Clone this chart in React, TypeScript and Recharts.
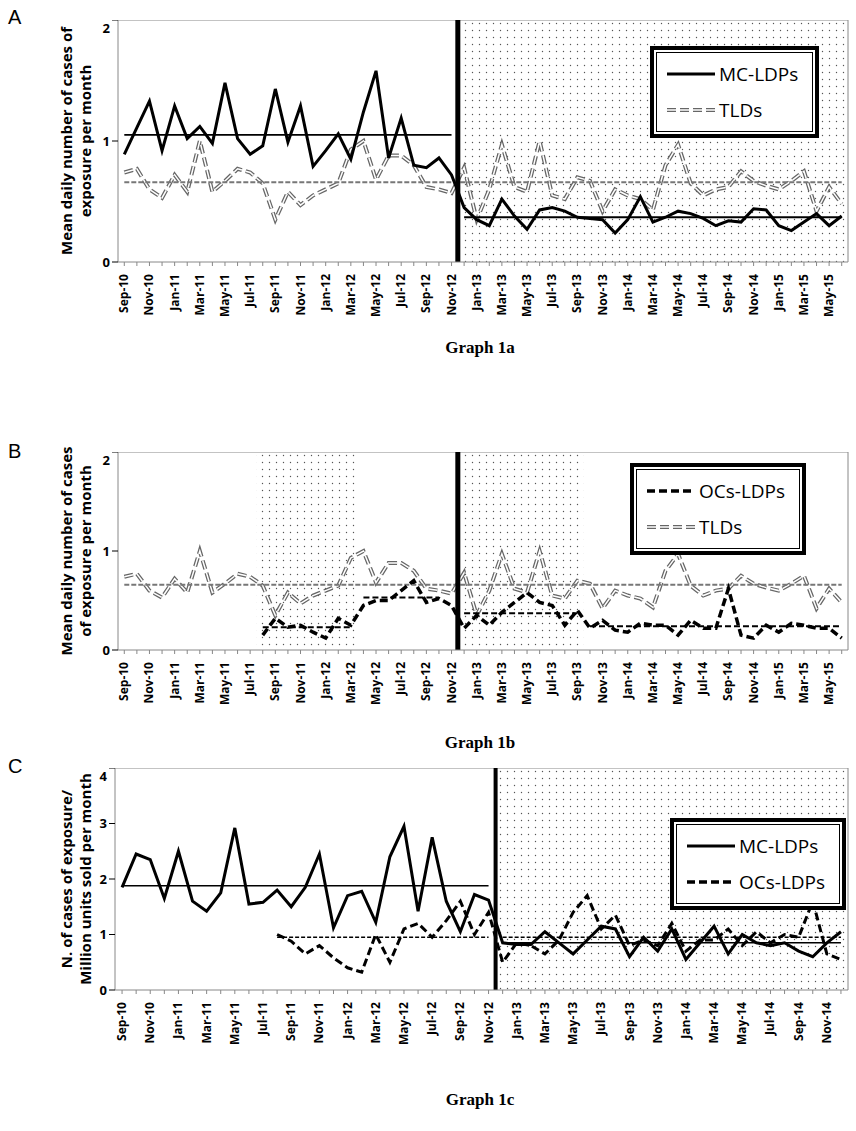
import React from 'react'
import { LineChart, Line, XAxis, YAxis, ReferenceLine, ReferenceArea } from 'recharts'

// month labels
const MONTHS_AB = [
  'Sep-10','Oct-10','Nov-10','Dec-10','Jan-11','Feb-11','Mar-11','Apr-11','May-11','Jun-11','Jul-11','Aug-11',
  'Sep-11','Oct-11','Nov-11','Dec-11','Jan-12','Feb-12','Mar-12','Apr-12','May-12','Jun-12','Jul-12','Aug-12',
  'Sep-12','Oct-12','Nov-12','Dec-12','Jan-13','Feb-13','Mar-13','Apr-13','May-13','Jun-13','Jul-13','Aug-13',
  'Sep-13','Oct-13','Nov-13','Dec-13','Jan-14','Feb-14','Mar-14','Apr-14','May-14','Jun-14','Jul-14','Aug-14',
  'Sep-14','Oct-14','Nov-14','Dec-14','Jan-15','Feb-15','Mar-15','Apr-15','May-15','Jun-15',
]
const MONTHS_C = MONTHS_AB.slice(0, 52)

// Graph 1a / 1b
const MC_A_PRE = [0.89,1.11,1.33,0.92,1.29,1.02,1.12,0.98,1.48,1.02,0.89,0.96,1.43,0.99,1.29,0.79,0.92,1.06,0.85,1.24,1.58,0.86,1.19,0.8,0.78,0.86,0.72]
const MC_A_POST = [0.45,0.35,0.3,0.52,0.38,0.27,0.43,0.45,0.42,0.37,0.36,0.35,0.24,0.35,0.54,0.33,0.37,0.42,0.4,0.36,0.3,0.34,0.33,0.44,0.43,0.3,0.26,0.33,0.4,0.3,0.38]
const TLD = [0.74,0.77,0.6,0.53,0.72,0.58,1.0,0.58,0.67,0.77,0.74,0.65,0.35,0.58,0.47,0.55,0.6,0.65,0.93,1.0,0.68,0.88,0.88,0.8,0.62,0.6,0.57,
  0.78,0.35,0.6,0.97,0.62,0.58,1.0,0.55,0.52,0.7,0.67,0.42,0.6,0.55,0.52,0.43,0.8,0.97,0.65,0.55,0.6,0.62,0.75,0.67,0.63,0.6,0.67,0.75,0.42,0.62,0.48]
const TLD_MEAN = 0.66
const MC_A_MEANS = [1.05, 0.37]
const OC_B = [0.15,0.32,0.23,0.25,0.18,0.12,0.32,0.25,0.45,0.5,0.5,0.6,0.7,0.48,0.52,0.45,
  0.22,0.35,0.25,0.38,0.48,0.58,0.48,0.45,0.25,0.4,
  0.22,0.3,0.2,0.18,0.27,0.25,0.25,0.15,0.3,0.22,0.22,0.62,0.15,0.12,0.25,0.18,0.27,0.25,0.22,0.22,0.12]
const OC_B_MEANS = [0.23, 0.53, 0.37, 0.24]

// Graph 1c
const MC_C = [1.85,2.45,2.35,1.65,2.5,1.6,1.42,1.75,2.92,1.55,1.58,1.8,1.5,1.85,2.45,1.12,1.7,1.78,1.22,2.4,2.95,1.42,2.75,1.6,1.05,1.72,1.62,
  0.85,0.82,0.82,1.05,0.85,0.65,0.9,1.15,1.1,0.6,0.95,0.7,1.1,0.55,0.85,1.15,0.65,1.0,0.85,0.8,0.85,0.7,0.6,0.85,1.05]
const OC_C = [1.0,0.88,0.65,0.8,0.58,0.4,0.32,1.0,0.5,1.1,1.2,0.95,1.25,1.6,1.0,1.4,
  0.5,0.85,0.8,0.65,0.9,1.4,1.7,1.1,1.35,0.8,0.9,0.8,1.2,0.7,0.9,0.9,1.1,0.8,1.05,0.85,1.0,0.95,1.6,0.65,0.55]
const MC_C_MEANS = [1.88, 0.85]
const OC_C_MEANS = [0.95, 0.95]

const inRange = (i: number, a: number, b: number, v: number) => (i >= a && i <= b ? v : null)

const dataA = MONTHS_AB.map((m, i) => ({
  i, m,
  mc: i < 27 ? MC_A_PRE[i] : MC_A_POST[i - 27],
  tld: TLD[i],
  tldMean: TLD_MEAN,
  mc1: inRange(i, 0, 26, MC_A_MEANS[0]),
  mc2: inRange(i, 27, 57, MC_A_MEANS[1]),
}))

const dataB = MONTHS_AB.map((m, i) => ({
  i, m,
  tld: TLD[i],
  tldMean: TLD_MEAN,
  oc: i >= 11 ? OC_B[i - 11] : null,
  o1: inRange(i, 11, 18, OC_B_MEANS[0]),
  o2: inRange(i, 19, 25, OC_B_MEANS[1]),
  o3: inRange(i, 27, 36, OC_B_MEANS[2]),
  o4: inRange(i, 37, 57, OC_B_MEANS[3]),
}))

const dataC = MONTHS_C.map((m, i) => ({
  i, m,
  mc: MC_C[i],
  oc: i >= 11 ? OC_C[i - 11] : null,
  mc1: inRange(i, 0, 26, MC_C_MEANS[0]),
  mc2: inRange(i, 27, 51, MC_C_MEANS[1]),
  oc1: inRange(i, 11, 26, OC_C_MEANS[0]),
  oc2: inRange(i, 27, 51, OC_C_MEANS[1]),
}))

const AXIS_FONT = 'Open Sans, sans-serif'

function Dots({ id }: { id: string }) {
  return (
    <defs>
      <pattern id={id} width="7" height="7" patternUnits="userSpaceOnUse">
        <rect width="7" height="7" fill="#fff" />
        <circle cx="3.5" cy="3.5" r="0.7" fill="#555" />
      </pattern>
    </defs>
  )
}

function MonthTick(labels: string[]) {
  return (props: any) => {
    const { x, y, payload } = props
    const idx = payload.value
    if (idx % 2 !== 0) return <g />
    return (
      <text x={x + 4} y={y + 6} textAnchor="end" transform={`rotate(-90 ${x + 4} ${y + 6})`}
        fontSize={12} fontWeight="bold" fontFamily={AXIS_FONT} fill="#000">{labels[idx]}</text>
    )
  }
}

const tickIdx = (n: number) => Array.from({ length: n }, (_, k) => k)

function LegendBox({ items, style }: { items: { label: string; kind: string }[]; style: React.CSSProperties }) {
  return (
    <div style={{ position: 'absolute', border: '4px solid #000', padding: 2, background: '#fff', ...style }}>
      <div style={{ border: '1px solid #000', padding: '3px 14px 3px 10px' }}>
        {items.map(it => (
          <div key={it.label} style={{ display: 'flex', alignItems: 'center', height: 36, fontFamily: AXIS_FONT, fontSize: 19 }}>
            <svg width={48} height={10} style={{ marginRight: 4 }}>
              {it.kind === 'solid' && <line x1={0} y1={5} x2={48} y2={5} stroke="#000" strokeWidth={3} />}
              {it.kind === 'tld' && <>
                <line x1={0} y1={5} x2={48} y2={5} stroke="#666" strokeWidth={4} strokeDasharray="9 4" />
                <line x1={0} y1={5} x2={48} y2={5} stroke="#fff" strokeWidth={1.5} strokeDasharray="9 4" />
              </>}
              {it.kind === 'dash' && <line x1={0} y1={5} x2={48} y2={5} stroke="#000" strokeWidth={3.5} strokeDasharray="8 4" />}
            </svg>
            {it.label}
          </div>
        ))}
      </div>
    </div>
  )
}

function TldLines() {
  return [
    <Line key="tldo" dataKey="tld" stroke="#666" strokeWidth={4} strokeDasharray="9 4" dot={false} isAnimationActive={false} />,
    <Line key="tldi" dataKey="tld" stroke="#fff" strokeWidth={1.5} strokeDasharray="9 4" dot={false} isAnimationActive={false} />,
    <Line key="tldm" dataKey="tldMean" stroke="#777" strokeWidth={2} strokeDasharray="5 2" dot={false} isAnimationActive={false} />,
  ]
}

const YLabel = ({ top, lines }: { top: number; lines: string[] }) => (
  <div style={{ position: 'absolute', left: 76, top, transform: 'translate(-50%,-50%) rotate(-90deg)', whiteSpace: 'nowrap',
    textAlign: 'center', fontFamily: AXIS_FONT, fontWeight: 'bold', fontSize: 15, lineHeight: '19px' }}>
    {lines.map(l => <div key={l}>{l}</div>)}
  </div>
)

const Letter = ({ top, t }: { top: number; t: string }) => (
  <div style={{ position: 'absolute', left: 8, top, fontFamily: 'Liberation Sans, Arial, sans-serif', fontSize: 20 }}>{t}</div>
)

const Caption = ({ top, t }: { top: number; t: string }) => (
  <div style={{ position: 'absolute', left: 0, width: 960, top, textAlign: 'center', fontFamily: 'Liberation Serif, serif', fontWeight: 'bold', fontSize: 17 }}>{t}</div>
)

const yTickStyle = { fontSize: 13, fontWeight: 'bold', fontFamily: AXIS_FONT, fill: '#000' }

export default function App() {
  const chartProps = { width: 856, margin: { top: 0, right: 8, left: 0, bottom: 0 } }
  return (
    <div style={{ position: 'absolute', left: 0, top: 0, width: 856, height: 1131, background: '#fff' }}>
      <Letter top={6} t="A" />
      <div style={{ position: 'absolute', left: 0, top: 20 }}>
        <LineChart {...chartProps} height={302} data={dataA}>
          <Dots id="dA" />
          <XAxis dataKey="i" type="number" domain={[-0.5, 57.5]} ticks={tickIdx(58)} interval={0} height={60}
            tick={MonthTick(MONTHS_AB)} tickLine={{ stroke: '#888' }} tickSize={4} axisLine={{ stroke: '#888' }} />
          <YAxis width={118} domain={[0, 2]} ticks={[0, 1, 2]} tick={yTickStyle} axisLine={{ stroke: '#888' }} tickLine={{ stroke: '#000' }} />
          <ReferenceArea x1={26.5} x2={57.5} y1={0} y2={2} fill="url(#dA)" fillOpacity={1} stroke="none" />
          <ReferenceLine y={2} stroke="#888" />
          <ReferenceLine x={57.5} stroke="#888" />
          {TldLines()}
          <Line dataKey="mc" stroke="#000" strokeWidth={3} dot={false} isAnimationActive={false} />
          <Line dataKey="mc1" stroke="#000" strokeWidth={1.8} dot={false} isAnimationActive={false} />
          <Line dataKey="mc2" stroke="#000" strokeWidth={1.8} dot={false} isAnimationActive={false} />
          <ReferenceLine x={26.5} stroke="#000" strokeWidth={5} />
        </LineChart>
      </div>
      <YLabel top={141} lines={['Mean daily number of cases of', 'exposure per month']} />
      <LegendBox style={{ left: 650, top: 46 }} items={[{ label: 'MC-LDPs', kind: 'solid' }, { label: 'TLDs', kind: 'tld' }]} />
      <Caption top={338} t="Graph 1a" />

      <Letter top={440} t="B" />
      <div style={{ position: 'absolute', left: 0, top: 452 }}>
        <LineChart {...chartProps} height={258} data={dataB}>
          <Dots id="dB" />
          <XAxis dataKey="i" type="number" domain={[-0.5, 57.5]} ticks={tickIdx(58)} interval={0} height={60}
            tick={MonthTick(MONTHS_AB)} tickLine={{ stroke: '#888' }} tickSize={4} axisLine={{ stroke: '#888' }} />
          <YAxis width={118} domain={[0, 2]} ticks={[0, 1, 2]} tick={yTickStyle} axisLine={{ stroke: '#888' }} tickLine={{ stroke: '#000' }} />
          <ReferenceArea x1={10.5} x2={18.5} y1={0} y2={2} fill="url(#dB)" fillOpacity={1} stroke="none" />
          <ReferenceArea x1={26.5} x2={36.5} y1={0} y2={2} fill="url(#dB)" fillOpacity={1} stroke="none" />
          <ReferenceLine y={2} stroke="#888" />
          <ReferenceLine x={57.5} stroke="#888" />
          {TldLines()}
          <Line dataKey="oc" stroke="#000" strokeWidth={3.5} strokeDasharray="8 4" dot={false} isAnimationActive={false} />
          <Line dataKey="o1" stroke="#000" strokeWidth={2} strokeDasharray="6 3" dot={false} isAnimationActive={false} />
          <Line dataKey="o2" stroke="#000" strokeWidth={2} strokeDasharray="6 3" dot={false} isAnimationActive={false} />
          <Line dataKey="o3" stroke="#000" strokeWidth={2} strokeDasharray="6 3" dot={false} isAnimationActive={false} />
          <Line dataKey="o4" stroke="#000" strokeWidth={2} strokeDasharray="6 3" dot={false} isAnimationActive={false} />
          <ReferenceLine x={26.5} stroke="#000" strokeWidth={5} />
        </LineChart>
      </div>
      <YLabel top={551} lines={['Mean daily number of cases', 'of exposure per month']} />
      <LegendBox style={{ left: 630, top: 463 }} items={[{ label: 'OCs-LDPs', kind: 'dash' }, { label: 'TLDs', kind: 'tld' }]} />
      <Caption top={733} t="Graph 1b" />

      <Letter top={755} t="C" />
      <div style={{ position: 'absolute', left: 0, top: 768 }}>
        <LineChart {...chartProps} height={282} data={dataC}>
          <Dots id="dC" />
          <XAxis dataKey="i" type="number" domain={[-0.5, 51.5]} ticks={tickIdx(52)} interval={0} height={60}
            tick={MonthTick(MONTHS_C)} tickLine={{ stroke: '#888' }} tickSize={4} axisLine={{ stroke: '#888' }} />
          <YAxis width={115} domain={[0, 4]} ticks={[0, 1, 2, 3, 4]} tick={yTickStyle} axisLine={{ stroke: '#888' }} tickLine={{ stroke: '#000' }} />
          <ReferenceArea x1={26.5} x2={51.5} y1={0} y2={4} fill="url(#dC)" fillOpacity={1} stroke="none" />
          <ReferenceLine y={4} stroke="#888" />
          <ReferenceLine x={51.5} stroke="#888" />
          <Line dataKey="mc" stroke="#000" strokeWidth={3} dot={false} isAnimationActive={false} />
          <Line dataKey="oc" stroke="#000" strokeWidth={3} strokeDasharray="8 4" dot={false} isAnimationActive={false} />
          <Line dataKey="mc1" stroke="#000" strokeWidth={1.5} dot={false} isAnimationActive={false} />
          <Line dataKey="mc2" stroke="#000" strokeWidth={1.5} dot={false} isAnimationActive={false} />
          <Line dataKey="oc1" stroke="#000" strokeWidth={1.5} strokeDasharray="4 2" dot={false} isAnimationActive={false} />
          <Line dataKey="oc2" stroke="#000" strokeWidth={1.5} strokeDasharray="4 2" dot={false} isAnimationActive={false} />
          <ReferenceLine x={26.5} stroke="#000" strokeWidth={4} />
        </LineChart>
      </div>
      <YLabel top={879} lines={['N. of cases of exposure/', 'Million units sold per month']} />
      <LegendBox style={{ left: 670, top: 818 }} items={[{ label: 'MC-LDPs', kind: 'solid' }, { label: 'OCs-LDPs', kind: 'dash' }]} />
      <Caption top={1090} t="Graph 1c" />
    </div>
  )
}
